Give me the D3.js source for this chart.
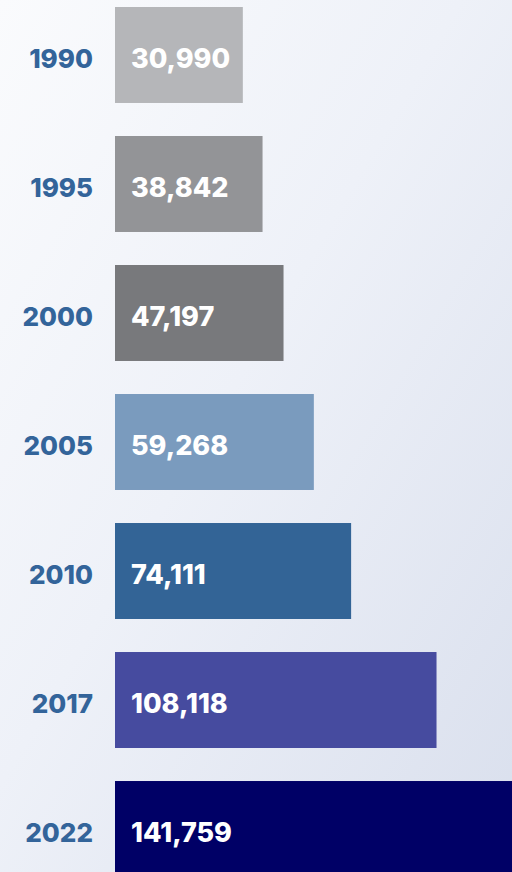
<!DOCTYPE html>
<html>
<head>
<meta charset="utf-8">
<script src="https://cdn.jsdelivr.net/npm/d3@7"></script>
<style>
  html, body { margin: 0; padding: 0; }
  body { width: 512px; height: 872px; overflow: hidden; }
</style>
</head>
<body>
<div id="chart"></div>
<script>
const years = ["1990", "1995", "2000", "2005", "2010", "2017", "2022"];
const values = [30990, 38842, 47197, 59268, 74111, 108118, 141759];
const barColors = ["#b5b6b9", "#939497", "#78797c", "#7a9bbe", "#336496", "#464b9f", "#000066"];

const width = 512;
const height = 872;
const barLeft = 115;

const data = years.map((y, i) => ({ year: y, value: values[i], color: barColors[i] }));

const svg = d3.select("#chart")
  .append("svg")
  .attr("width", width)
  .attr("height", height);

// soft background wash
const defs = svg.append("defs");
const grad = defs.append("linearGradient")
  .attr("id", "bg")
  .attr("x1", "0%").attr("y1", "0%")
  .attr("x2", "100%").attr("y2", "100%");
grad.append("stop").attr("offset", "0%").attr("stop-color", "#fafbfd");
grad.append("stop").attr("offset", "45%").attr("stop-color", "#eef1f8");
grad.append("stop").attr("offset", "100%").attr("stop-color", "#d9dfed");

svg.append("rect")
  .attr("width", width)
  .attr("height", height)
  .attr("fill", "url(#bg)");

const y = d3.scaleBand()
  .domain(years)
  .range([7, 877])
  .paddingInner(0.256)
  .paddingOuter(0);

// bars don't start from zero width in the original, so there's an offset
const x = d3.scaleLinear()
  .domain([0, d3.max(values)])
  .range([50, 406]);

svg.selectAll(".bar")
  .data(data)
  .enter()
  .append("rect")
  .attr("class", "bar")
  .attr("x", barLeft)
  .attr("y", d => y(d.year))
  .attr("width", d => x(d.value))
  .attr("height", y.bandwidth())
  .attr("fill", d => d.color);

svg.selectAll(".year")
  .data(data)
  .enter()
  .append("text")
  .attr("class", "year")
  .attr("x", 93)
  .attr("y", d => y(d.year) + y.bandwidth() / 2 + 6)
  .attr("text-anchor", "end")
  .attr("dominant-baseline", "middle")
  .style("font-family", "Inter, sans-serif")
  .style("font-weight", "800")
  .style("font-size", "26px")
  .style("fill", "#33649a")
  .text(d => d.year);

svg.selectAll(".value")
  .data(data)
  .enter()
  .append("text")
  .attr("class", "value")
  .attr("x", barLeft + 16)
  .attr("y", d => y(d.year) + y.bandwidth() / 2 + 6)
  .attr("dominant-baseline", "middle")
  .style("font-family", "Inter, sans-serif")
  .style("font-weight", "800")
  .style("font-size", "27px")
  .style("fill", "#ffffff")
  .text(d => d3.format(",")(d.value));
</script>
</body>
</html>
